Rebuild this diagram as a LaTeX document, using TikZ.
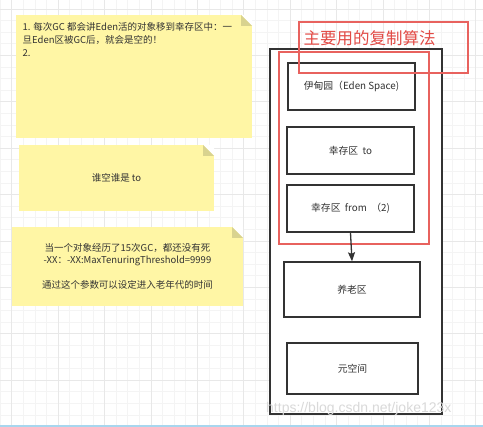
\documentclass[tikz,border=0pt]{standalone}
\usepackage{fontspec}
\setmainfont{Noto Sans CJK SC}
\newfontfamily\wmfont{Liberation Sans}
\usetikzlibrary{arrows.meta}
\definecolor{noteY}{HTML}{FFF6A5}
\definecolor{foldY}{HTML}{D9D38F}
\definecolor{redL}{HTML}{E8625E}
\definecolor{redT}{HTML}{E24A45}
\definecolor{boxK}{HTML}{333333}
\definecolor{txt}{HTML}{333333}
\definecolor{gridA}{HTML}{F4F4F4}
\definecolor{gridB}{HTML}{E8E8E8}
\begin{document}
\begin{tikzpicture}[x=1pt,y=-1pt,
  notebox/.style={fill=noteY,inner sep=0pt,outer sep=0pt,text=txt,align=center,
    font=\fontsize{9.5}{12.5}\selectfont},
  fold/.style={fill=foldY},
  membox/.style={draw=boxK,line width=1.4pt,fill=white,inner sep=0pt,text=txt,
    font=\fontsize{9.8}{11}\selectfont},
  redbox/.style={draw=redL,line width=1.3pt,inner sep=0pt},
  flow/.style={draw=boxK,line width=1.3pt,-{Stealth[length=9pt,width=7pt,inset=1.5pt]}}
]
\useasboundingbox (0,0) rectangle (483,427);
\fill[white] (0,0) rectangle (483,427);
% grid
\foreach \k in {0,...,41} \draw[gridA,line width=0.6pt] (11.6*\k,0) -- (11.6*\k,427);
\foreach \k in {0,...,36} \draw[gridA,line width=0.6pt] (0,9+11.6*\k) -- (483,9+11.6*\k);
\foreach \k in {1,5,...,41} \draw[gridB,line width=0.6pt] (11.6*\k,0) -- (11.6*\k,427);
\foreach \k in {0,4,...,36} \draw[gridB,line width=0.6pt] (0,9+11.6*\k) -- (483,9+11.6*\k);
\draw[color={rgb,255:red,168;green,214;blue,238},line width=1.5pt] (0,426) -- (483,426);

% notes
\node[notebox,minimum width=236pt,minimum height=123pt] (n1) at (134,76.5) {};
\node[notebox,minimum width=195pt,minimum height=66pt] (n2) at (116.5,178) {谁空谁是 to};
\node[notebox,minimum width=231pt,minimum height=79pt] (n3) at (127.5,266.5)
  {当一个对象经历了15次GC，都还没有死\\-XX：-XX:MaxTenuringThreshold=9999\\ \\通过这个参数可以设定进入老年代的时间};
\foreach \n in {n1,n2,n3}{
  \fill[white] ([xshift=-11pt]\n.north east) -- (\n.north east) -- ([yshift=-11pt]\n.north east) -- cycle;
  \fill[fold] ([xshift=-11pt]\n.north east) -- ([yshift=-11pt]\n.north east) -- ([xshift=-11pt,yshift=-11pt]\n.north east) -- cycle;
}
\node[anchor=north west,inner sep=0pt,align=left,text=txt,font=\fontsize{9.5}{13}\selectfont] (n1t) at (22.5,22)
  {1. 每次GC 都会讲Eden活的对象移到幸存区中：一\\旦Eden区被GC后，就会是空的！\\2.};

% memory boxes
\node[membox,minimum width=172pt,minimum height=365pt] (heap) at (356,231.5) {};
\node[redbox,minimum width=150pt,minimum height=192pt] (copy) at (354,148) {};
\node[membox,minimum width=127pt,minimum height=47pt] (eden) at (351.5,86.5) {伊甸园（Eden Space)};
\node[membox,minimum width=127pt,minimum height=47pt] (to) at (350.5,150.5) {幸存区\ \ to};
\node[membox,minimum width=127pt,minimum height=47pt] (from) at (350.5,208.5) {幸存区\ \ from \ （2)};
\node[membox,minimum width=136pt,minimum height=55pt] (old) at (352,289.5) {养老区};
\node[membox,minimum width=131pt,minimum height=51pt] (meta) at (352.5,368.5) {元空间};
\draw[flow] (from.south) -- (old.north);

% title
\node[redbox,minimum width=169pt,minimum height=51pt] (title) at (383.5,47.5) {};
\node[inner sep=0pt,text=redT,font=\fontsize{16.5}{18}\selectfont] (titletext) at (369.5,38) {主要用的复制算法};

% watermark
\node[anchor=west,inner sep=0pt,text=gray!30,font=\wmfont\fontsize{14}{14}\selectfont] (wm) at (266,409) {https://blog.csdn.net/joke123x};
\end{tikzpicture}
\end{document}
